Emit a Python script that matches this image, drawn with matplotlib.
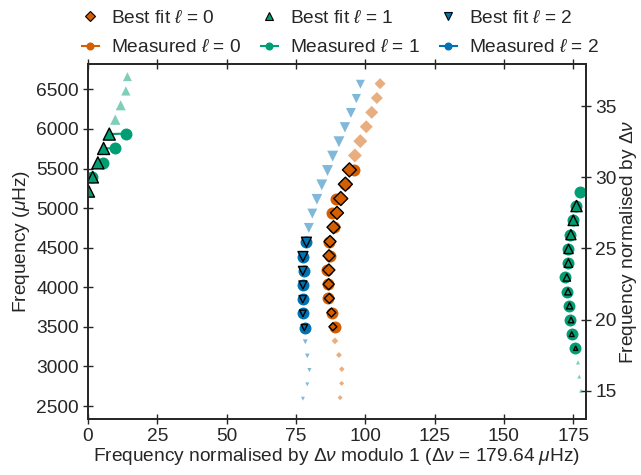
import numpy as np
import matplotlib
matplotlib.use("Agg")
import matplotlib.pyplot as plt
from matplotlib.lines import Line2D

FONT = ["Liberation Sans", "DejaVu Sans"]
plt.rcParams["font.family"] = FONT
plt.rcParams["mathtext.fontset"] = "custom"
plt.rcParams["mathtext.rm"] = "Liberation Sans"
plt.rcParams["mathtext.it"] = "Liberation Sans:italic"
TXT = "#262626"
FS = 13.8

delta_nu = 179.64

# Best-fit (model) mode frequencies in muHz, radial orders n=14..36
model_l0 = [2605.9, 2786.1, 2965.8, 3144.4, 3322.6, 3501.5, 3680.6, 3859.5,
            4038.9, 4218.6, 4398.3, 4578.3, 4759.2, 4940.1, 5121.1, 5302.4,
            5483.5, 5665.1, 5846.7, 6028.5, 6210.1, 6391.6, 6572.4]
height_l0 = [0.36, 0.36, 0.40, 0.42, 0.48, 0.57, 0.64, 0.71, 0.79, 0.86, 0.86,
             0.86, 0.93, 0.93, 1.00, 1.00, 1.00, 1.00, 1.00, 0.93, 0.93, 0.86,
             0.79]

model_l1 = [2692.8, 2871.8, 3051.0, 3229.8, 3408.0, 3587.4, 3766.5, 3945.6,
            4124.8, 4305.0, 4484.7, 4665.2, 4845.7, 5026.5, 5209.9, 5390.9,
            5572.4, 5754.1, 5935.8, 6117.6, 6299.2, 6480.7, 6660.9]
height_l1 = [0.28, 0.28, 0.30, 0.30, 0.34, 0.40, 0.45, 0.47, 0.53, 0.60,
             0.66, 0.72, 0.74, 0.80, 0.80, 0.82, 0.86, 0.86, 0.86, 0.74,
             0.72, 0.66, 0.64]

model_l2 = [2592.5, 2773.7, 2954.1, 3133.0, 3311.9, 3491.2, 3670.3, 3849.9,
            4029.6, 4209.2, 4388.9, 4569.8, 4750.3, 4931.2, 5112.5, 5293.9,
            5475.6, 5657.1, 5839.0, 6020.8, 6202.6, 6384.2, 6565.3]
height_l2 = [0.28, 0.28, 0.30, 0.33, 0.35, 0.45, 0.47, 0.52, 0.57, 0.62,
             0.71, 0.71, 0.71, 0.71, 0.76, 0.78, 0.78, 0.78, 0.78, 0.74,
             0.71, 0.66, 0.64]

# Measured mode frequencies in muHz
obs_l0 = [3502.4, 3680.8, 3858.9, 4038.6, 4218.0, 4398.5, 4578.1, 4759.2,
          4938.4, 5119.2, 5302.4, 5485.3]
obs_l1 = [3229.6, 3408.2, 3587.2, 3766.3, 3945.4, 4124.2, 4304.7, 4484.4,
          4664.8, 4845.7, 5026.2, 5207.3, 5390.5, 5574.3, 5758.1, 5942.0]
obs_l2 = [3491.3, 3670.3, 3849.9, 4029.6, 4209.5, 4388.9, 4569.8]

colors = ["#d55e00", "#029e73", "#0173b2"]
markers = ["D", "^", "v"]
models = [model_l0, model_l1, model_l2]
heights = [height_l0, height_l1, height_l2]
observed = [obs_l0, obs_l1, obs_l2]

PX = 0.72  # points per pixel at dpi 100
MAXPX = 14.0

fig = plt.figure(figsize=(6.41, 4.75), dpi=100)
ax = fig.add_axes([88 / 641, 1 - 419 / 475, (586 - 88) / 641, (419 - 64) / 475])

for ell in range(3):
    col = colors[ell]
    mk = markers[ell]
    nu_m = np.array(models[ell])
    h = np.array(heights[ell])
    nu_o = np.array(observed[ell])
    xm = nu_m % delta_nu
    xo = nu_o % delta_nu
    ms = h * MAXPX * PX
    if mk == "D":
        ms = ms / np.sqrt(2)
    matched = np.array([np.min(np.abs(nu_o - m)) < 15 for m in nu_m])

    ax.scatter(xm[~matched], nu_m[~matched], s=ms[~matched] ** 2, marker=mk,
               color=col, alpha=0.5, linewidths=0, zorder=2)
    for xi, yi in zip(xo, nu_o):
        j = np.argmin(np.abs(nu_m - yi))
        if abs(xm[j] - xi) < delta_nu / 2:
            ax.plot([xi, xm[j]], [yi, nu_m[j]], color=col, lw=1.5, zorder=2.5)
    ax.plot(xo, nu_o, "o", ms=8.6, color=col, mec="none", zorder=3)
    ax.scatter(xm[matched], nu_m[matched], s=ms[matched] ** 2, marker=mk,
               facecolor=col, edgecolor="k", linewidths=1.0, zorder=4)

ax.set_xlim(0, delta_nu)
ax.set_ylim(2336, 6821)
ax.set_xticks(np.arange(0, 176, 25))
ax.set_yticks(np.arange(2500, 6501, 500))
ax.tick_params(direction="inout", length=7, width=1.0, top=True, right=False,
               labelsize=FS, colors=TXT, labelcolor=TXT, pad=3)
for sp in ax.spines.values():
    sp.set_linewidth(1.25)
    sp.set_color(TXT)
ax.set_xlabel(r"Frequency normalised by $\Delta\nu$ modulo 1 ($\Delta\nu$ = 179.64 $\mu$Hz)",
              fontsize=FS, color=TXT, labelpad=1)
ax.set_ylabel(r"Frequency ($\mu$Hz)", fontsize=FS, color=TXT, labelpad=3)

ax2 = ax.twinx()
ax2.set_ylim(np.array(ax.get_ylim()) / delta_nu)
ax2.set_yticks([15, 20, 25, 30, 35])
ax2.tick_params(direction="inout", length=7, width=1.0, labelsize=FS,
                colors=TXT, labelcolor=TXT, pad=3)
for sp in ax2.spines.values():
    sp.set_linewidth(1.25)
    sp.set_color(TXT)
ax2.set_ylabel(r"Frequency normalised by $\Delta\nu$", fontsize=FS, color=TXT,
               labelpad=1)

handles = []
labels = []
for ell in range(3):
    handles.append(Line2D([], [], ls="none", marker=markers[ell],
                          ms=5.2 if markers[ell] == "D" else 5.5,
                          mfc=colors[ell], mec="k", mew=0.8))
    labels.append(r"Best fit $\ell$ = %d" % ell)
    handles.append(Line2D([], [], ls="-", lw=1.5, marker="o", ms=5.8,
                          color=colors[ell], mec="none"))
    labels.append(r"Measured $\ell$ = %d" % ell)
leg = ax.legend(handles, labels, ncol=3, frameon=False, loc="lower center",
                bbox_to_anchor=(0.507, 1.0), fontsize=FS, handlelength=0.9,
                handletextpad=0.65, columnspacing=1.0, labelspacing=0.62,
                borderaxespad=0.0)
for t in leg.get_texts():
    t.set_color(TXT)

fig.savefig("out.png", dpi=100)
